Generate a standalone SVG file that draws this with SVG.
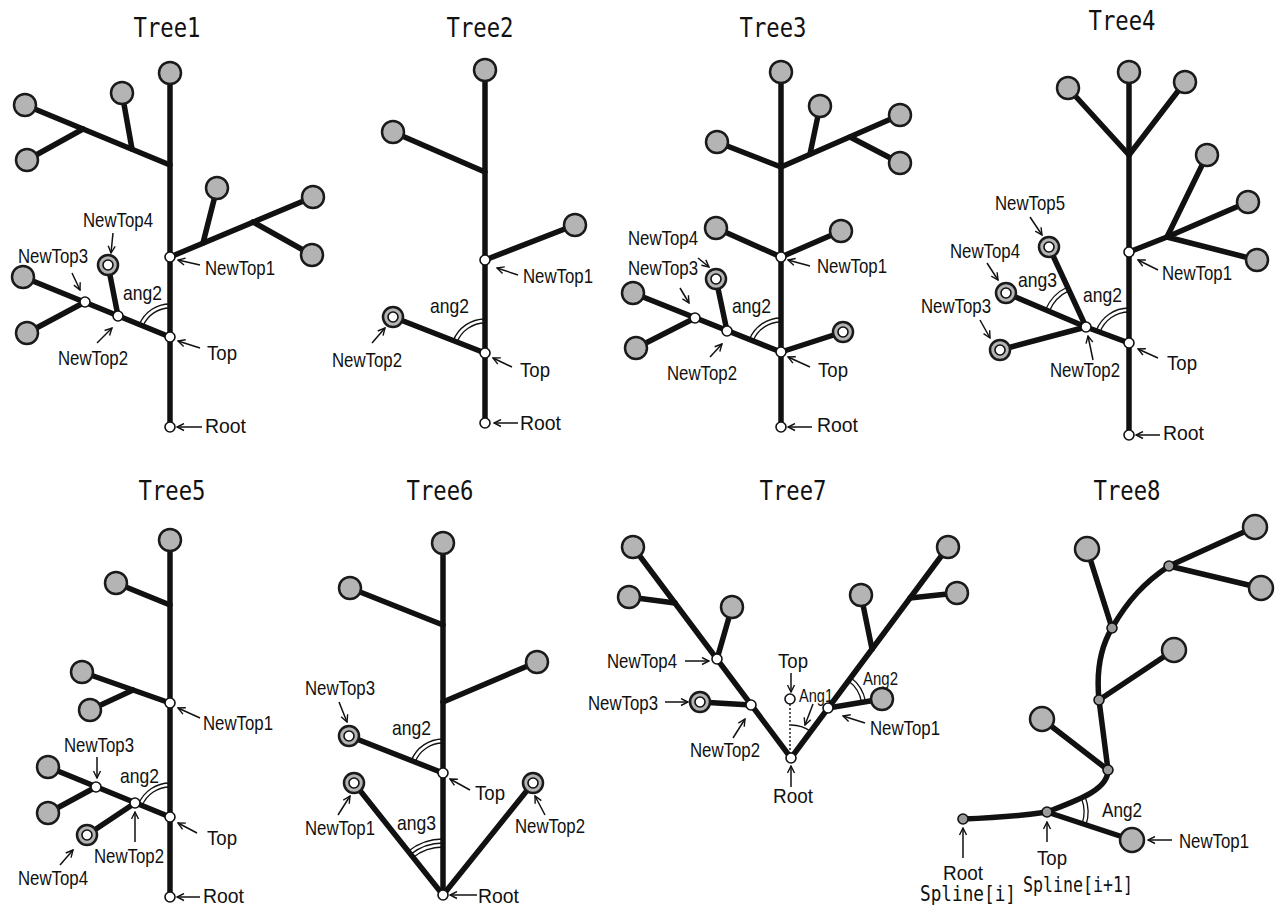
<svg xmlns="http://www.w3.org/2000/svg" width="1281" height="906" viewBox="0 0 1281 906">
<defs>
<style>
.br{stroke:#111;stroke-width:5.5;stroke-linecap:round;fill:none}
.leaf{fill:#b4b4b4;stroke:#1a1a1a;stroke-width:2.5}
.node{fill:#fff;stroke:#111;stroke-width:1.6}
.sn{fill:#9a9a9a;stroke:#111;stroke-width:1.6}
.arc{fill:none;stroke:#111;stroke-width:1.3}
.arr{stroke:#111;stroke-width:1.5;fill:none;marker-end:url(#ah)}
.dot{stroke:#111;stroke-width:1.4;stroke-dasharray:2 2;fill:none}
text{font-family:"Liberation Sans",Arial,sans-serif;font-size:21px;fill:#111}
.ttl{font-family:"DejaVu Sans Mono","Liberation Mono",monospace;font-size:27px;text-anchor:middle}
.mono{font-family:"DejaVu Sans Mono","Liberation Mono",monospace;font-size:21px}
.sm{font-size:18px}
</style>
<marker id="ah" markerWidth="9" markerHeight="9" refX="8" refY="4.5" orient="auto" markerUnits="userSpaceOnUse">
<path d="M1,1 L8,4.5 L1,8" fill="none" stroke="#111" stroke-width="1.4"/>
</marker>
</defs>
<rect width="1281" height="906" fill="#fff"/>

<!-- Tree1 -->
<g id="tree1">
<text class="ttl" x="167" y="37" textLength="67" lengthAdjust="spacingAndGlyphs">Tree1</text>
<g id="t1-connectors">
<line class="br" x1="170" y1="73" x2="170" y2="427"/>
<line class="br" x1="170" y1="165" x2="25" y2="105"/>
<line class="br" x1="83" y1="129" x2="27" y2="160"/>
<line class="br" x1="132" y1="149" x2="122" y2="93"/>
<line class="br" x1="170" y1="257" x2="313" y2="197"/>
<line class="br" x1="203" y1="243" x2="217" y2="188"/>
<line class="br" x1="253" y1="222" x2="312" y2="255"/>
<line class="br" x1="170" y1="337" x2="23" y2="277"/>
<line class="br" x1="85" y1="302" x2="27" y2="333"/>
<line class="br" x1="118" y1="316" x2="108" y2="265"/>
<path class="arc" d="M170,308 A29,29 0 0 0 143.1,326.0"/>
<path class="arc" d="M170,304 A33,33 0 0 0 139.4,324.5"/>
<line class="arr" x1="113" y1="233" x2="111" y2="253"/>
<line class="arr" x1="72" y1="273" x2="80" y2="290"/>
<line class="arr" x1="200" y1="265" x2="178" y2="260"/>
<line class="arr" x1="97" y1="343" x2="112" y2="328"/>
<line class="arr" x1="200" y1="348" x2="178" y2="341"/>
<line class="arr" x1="202" y1="427" x2="177" y2="427"/>
</g>
<g id="t1-leaves">
<circle class="leaf" cx="170" cy="73" r="11"/>
<circle class="leaf" cx="25" cy="105" r="11"/>
<circle class="leaf" cx="27" cy="160" r="11"/>
<circle class="leaf" cx="122" cy="93" r="11"/>
<circle class="leaf" cx="313" cy="197" r="11"/>
<circle class="leaf" cx="217" cy="188" r="11"/>
<circle class="leaf" cx="312" cy="255" r="11"/>
<circle class="leaf" cx="23" cy="277" r="11"/>
<circle class="leaf" cx="27" cy="333" r="11"/>
</g>
<g id="t1-newtop4"><circle class="leaf" cx="108" cy="265" r="10"/><circle class="node" cx="108" cy="265" r="5"/><text x="83" y="227" textLength="70" lengthAdjust="spacingAndGlyphs">NewTop4</text></g>
<g id="t1-newtop3"><circle class="node" cx="85" cy="302" r="5"/><text x="18" y="263" textLength="70" lengthAdjust="spacingAndGlyphs">NewTop3</text></g>
<g id="t1-newtop2"><circle class="node" cx="118" cy="316" r="5"/><text x="58" y="365" textLength="70" lengthAdjust="spacingAndGlyphs">NewTop2</text></g>
<g id="t1-newtop1"><circle class="node" cx="170" cy="257" r="5"/><text x="205" y="275" textLength="70" lengthAdjust="spacingAndGlyphs">NewTop1</text></g>
<g id="t1-top"><circle class="node" cx="170" cy="337" r="5"/><text x="207" y="360" textLength="30" lengthAdjust="spacingAndGlyphs">Top</text></g>
<g id="t1-root"><circle class="node" cx="170" cy="427" r="5"/><text x="205" y="433" textLength="41" lengthAdjust="spacingAndGlyphs">Root</text></g>
<text x="123" y="300" textLength="39" lengthAdjust="spacingAndGlyphs">ang2</text>
</g>

<!-- Tree2 -->
<g id="tree2">
<text class="ttl" x="480" y="37" textLength="67" lengthAdjust="spacingAndGlyphs">Tree2</text>
<g id="t2-connectors">
<line class="br" x1="485" y1="70" x2="485" y2="423"/>
<line class="br" x1="485" y1="172" x2="393" y2="132"/>
<line class="br" x1="485" y1="260" x2="575" y2="225"/>
<line class="br" x1="485" y1="353" x2="393" y2="317"/>
<path class="arc" d="M485,323 A30,30 0 0 0 457.1,342.1"/>
<path class="arc" d="M485,319 A34,34 0 0 0 453.3,340.6"/>
<line class="arr" x1="518" y1="275" x2="497" y2="268"/>
<line class="arr" x1="372" y1="343" x2="385" y2="328"/>
<line class="arr" x1="512" y1="367" x2="493" y2="358"/>
<line class="arr" x1="518" y1="423" x2="494" y2="423"/>
</g>
<g id="t2-leaves">
<circle class="leaf" cx="485" cy="70" r="11"/>
<circle class="leaf" cx="393" cy="132" r="11"/>
<circle class="leaf" cx="575" cy="225" r="11"/>
</g>
<g id="t2-newtop2"><circle class="leaf" cx="393" cy="317" r="10"/><circle class="node" cx="393" cy="317" r="5"/><text x="332" y="367" textLength="70" lengthAdjust="spacingAndGlyphs">NewTop2</text></g>
<g id="t2-newtop1"><circle class="node" cx="485" cy="260" r="5"/><text x="523" y="283" textLength="70" lengthAdjust="spacingAndGlyphs">NewTop1</text></g>
<g id="t2-top"><circle class="node" cx="485" cy="353" r="5"/><text x="520" y="377" textLength="30" lengthAdjust="spacingAndGlyphs">Top</text></g>
<g id="t2-root"><circle class="node" cx="485" cy="423" r="5"/><text x="520" y="430" textLength="41" lengthAdjust="spacingAndGlyphs">Root</text></g>
<text x="430" y="313" textLength="39" lengthAdjust="spacingAndGlyphs">ang2</text>
</g>

<!-- Tree3 -->
<g id="tree3">
<text class="ttl" x="773" y="37" textLength="67" lengthAdjust="spacingAndGlyphs">Tree3</text>
<g id="t3-connectors">
<line class="br" x1="781" y1="72" x2="781" y2="427"/>
<line class="br" x1="781" y1="167" x2="717" y2="142"/>
<line class="br" x1="781" y1="167" x2="900" y2="115"/>
<line class="br" x1="810" y1="154" x2="820" y2="106"/>
<line class="br" x1="850" y1="137" x2="900" y2="163"/>
<line class="br" x1="781" y1="257" x2="716" y2="228"/>
<line class="br" x1="781" y1="257" x2="841" y2="231"/>
<line class="br" x1="781" y1="352" x2="843" y2="332"/>
<line class="br" x1="781" y1="352" x2="633" y2="293"/>
<line class="br" x1="695" y1="318" x2="636" y2="348"/>
<line class="br" x1="727" y1="331" x2="716" y2="279"/>
<path class="arc" d="M781,322 A30,30 0 0 0 753.1,340.9"/>
<path class="arc" d="M781,318 A34,34 0 0 0 749.4,339.4"/>
<line class="arr" x1="698" y1="258" x2="709" y2="267"/>
<line class="arr" x1="680" y1="288" x2="689" y2="303"/>
<line class="arr" x1="810" y1="266" x2="788" y2="260"/>
<line class="arr" x1="710" y1="357" x2="722" y2="344"/>
<line class="arr" x1="810" y1="367" x2="788" y2="357"/>
<line class="arr" x1="812" y1="427" x2="788" y2="427"/>
</g>
<g id="t3-leaves">
<circle class="leaf" cx="781" cy="72" r="11"/>
<circle class="leaf" cx="717" cy="142" r="11"/>
<circle class="leaf" cx="900" cy="115" r="11"/>
<circle class="leaf" cx="820" cy="106" r="11"/>
<circle class="leaf" cx="900" cy="163" r="11"/>
<circle class="leaf" cx="716" cy="228" r="11"/>
<circle class="leaf" cx="841" cy="231" r="11"/>
<circle class="leaf" cx="633" cy="293" r="11"/>
<circle class="leaf" cx="636" cy="348" r="11"/>
<circle class="leaf" cx="843" cy="332" r="10"/><circle class="node" cx="843" cy="332" r="5"/>
</g>
<g id="t3-newtop4"><circle class="leaf" cx="716" cy="279" r="10"/><circle class="node" cx="716" cy="279" r="5"/><text x="628" y="245" textLength="70" lengthAdjust="spacingAndGlyphs">NewTop4</text></g>
<g id="t3-newtop3"><circle class="node" cx="695" cy="318" r="5"/><text x="628" y="275" textLength="70" lengthAdjust="spacingAndGlyphs">NewTop3</text></g>
<g id="t3-newtop2"><circle class="node" cx="727" cy="331" r="5"/><text x="667" y="380" textLength="70" lengthAdjust="spacingAndGlyphs">NewTop2</text></g>
<g id="t3-newtop1"><circle class="node" cx="781" cy="257" r="5"/><text x="817" y="273" textLength="70" lengthAdjust="spacingAndGlyphs">NewTop1</text></g>
<g id="t3-top"><circle class="node" cx="781" cy="352" r="5"/><text x="818" y="377" textLength="30" lengthAdjust="spacingAndGlyphs">Top</text></g>
<g id="t3-root"><circle class="node" cx="781" cy="427" r="5"/><text x="817" y="432" textLength="41" lengthAdjust="spacingAndGlyphs">Root</text></g>
<text x="732" y="313" textLength="39" lengthAdjust="spacingAndGlyphs">ang2</text>
</g>

<!-- Tree4 -->
<g id="tree4">
<text class="ttl" x="1122" y="30" textLength="67" lengthAdjust="spacingAndGlyphs">Tree4</text>
<g id="t4-connectors">
<line class="br" x1="1129" y1="72" x2="1129" y2="435"/>
<line class="br" x1="1129" y1="155" x2="1068" y2="88"/>
<line class="br" x1="1129" y1="155" x2="1185" y2="82"/>
<line class="br" x1="1129" y1="252" x2="1167" y2="237"/>
<line class="br" x1="1167" y1="237" x2="1207" y2="155"/>
<line class="br" x1="1167" y1="237" x2="1248" y2="202"/>
<line class="br" x1="1167" y1="237" x2="1257" y2="260"/>
<line class="br" x1="1129" y1="343" x2="1086" y2="327"/>
<line class="br" x1="1086" y1="327" x2="1049" y2="247"/>
<line class="br" x1="1086" y1="327" x2="1006" y2="293"/>
<line class="br" x1="1086" y1="327" x2="1000" y2="350"/>
<path class="arc" d="M1129,312 A31,31 0 0 0 1100.0,332.2"/>
<path class="arc" d="M1129,308 A35,35 0 0 0 1096.2,330.8"/>
<path class="arc" d="M1069.2,290.7 A40,40 0 0 0 1049.2,311.4"/>
<path class="arc" d="M1067.5,287.0 A44,44 0 0 0 1045.5,309.8"/>
<line class="arr" x1="1030" y1="217" x2="1042" y2="235"/>
<line class="arr" x1="987" y1="263" x2="998" y2="280"/>
<line class="arr" x1="980" y1="320" x2="990" y2="338"/>
<line class="arr" x1="1158" y1="270" x2="1138" y2="260"/>
<line class="arr" x1="1093" y1="360" x2="1088" y2="336"/>
<line class="arr" x1="1158" y1="358" x2="1138" y2="349"/>
<line class="arr" x1="1160" y1="435" x2="1136" y2="435"/>
</g>
<g id="t4-leaves">
<circle class="leaf" cx="1129" cy="72" r="11"/>
<circle class="leaf" cx="1068" cy="88" r="11"/>
<circle class="leaf" cx="1185" cy="82" r="11"/>
<circle class="leaf" cx="1207" cy="155" r="11"/>
<circle class="leaf" cx="1248" cy="202" r="11"/>
<circle class="leaf" cx="1257" cy="260" r="11"/>
</g>
<g id="t4-newtop5"><circle class="leaf" cx="1049" cy="247" r="10"/><circle class="node" cx="1049" cy="247" r="5"/><text x="995" y="210" textLength="70" lengthAdjust="spacingAndGlyphs">NewTop5</text></g>
<g id="t4-newtop4"><circle class="leaf" cx="1006" cy="293" r="10"/><circle class="node" cx="1006" cy="293" r="5"/><text x="950" y="258" textLength="70" lengthAdjust="spacingAndGlyphs">NewTop4</text></g>
<g id="t4-newtop3"><circle class="leaf" cx="1000" cy="350" r="10"/><circle class="node" cx="1000" cy="350" r="5"/><text x="921" y="313" textLength="70" lengthAdjust="spacingAndGlyphs">NewTop3</text></g>
<g id="t4-newtop2"><circle class="node" cx="1086" cy="327" r="5"/><text x="1050" y="377" textLength="70" lengthAdjust="spacingAndGlyphs">NewTop2</text></g>
<g id="t4-newtop1"><circle class="node" cx="1129" cy="252" r="5"/><text x="1162" y="280" textLength="70" lengthAdjust="spacingAndGlyphs">NewTop1</text></g>
<g id="t4-top"><circle class="node" cx="1129" cy="343" r="5"/><text x="1167" y="370" textLength="30" lengthAdjust="spacingAndGlyphs">Top</text></g>
<g id="t4-root"><circle class="node" cx="1129" cy="435" r="5"/><text x="1163" y="440" textLength="41" lengthAdjust="spacingAndGlyphs">Root</text></g>
<text x="1018" y="287" textLength="39" lengthAdjust="spacingAndGlyphs">ang3</text>
<text x="1083" y="302" textLength="39" lengthAdjust="spacingAndGlyphs">ang2</text>
</g>

<!-- Tree5 -->
<g id="tree5">
<text class="ttl" x="172" y="500" textLength="67" lengthAdjust="spacingAndGlyphs">Tree5</text>
<g id="t5-connectors">
<line class="br" x1="170" y1="540" x2="170" y2="897"/>
<line class="br" x1="170" y1="605" x2="116" y2="583"/>
<line class="br" x1="170" y1="703" x2="82" y2="672"/>
<line class="br" x1="133" y1="690" x2="90" y2="710"/>
<line class="br" x1="170" y1="817" x2="48" y2="767"/>
<line class="br" x1="96" y1="787" x2="48" y2="813"/>
<line class="br" x1="135" y1="803" x2="87" y2="835"/>
<path class="arc" d="M170,787 A30,30 0 0 0 142.2,805.6"/>
<path class="arc" d="M170,783 A34,34 0 0 0 138.5,804.1"/>
<line class="arr" x1="97" y1="757" x2="97" y2="778"/>
<line class="arr" x1="200" y1="718" x2="178" y2="708"/>
<line class="arr" x1="197" y1="833" x2="178" y2="823"/>
<line class="arr" x1="135" y1="842" x2="135" y2="812"/>
<line class="arr" x1="60" y1="865" x2="73" y2="850"/>
<line class="arr" x1="200" y1="897" x2="177" y2="897"/>
</g>
<g id="t5-leaves">
<circle class="leaf" cx="170" cy="540" r="11"/>
<circle class="leaf" cx="116" cy="583" r="11"/>
<circle class="leaf" cx="82" cy="672" r="11"/>
<circle class="leaf" cx="90" cy="710" r="11"/>
<circle class="leaf" cx="48" cy="767" r="11"/>
<circle class="leaf" cx="48" cy="813" r="11"/>
</g>
<g id="t5-newtop4"><circle class="leaf" cx="87" cy="835" r="10"/><circle class="node" cx="87" cy="835" r="5"/><text x="18" y="885" textLength="70" lengthAdjust="spacingAndGlyphs">NewTop4</text></g>
<g id="t5-newtop3"><circle class="node" cx="96" cy="787" r="5"/><text x="64" y="752" textLength="70" lengthAdjust="spacingAndGlyphs">NewTop3</text></g>
<g id="t5-newtop2"><circle class="node" cx="135" cy="803" r="5"/><text x="94" y="863" textLength="70" lengthAdjust="spacingAndGlyphs">NewTop2</text></g>
<g id="t5-newtop1"><circle class="node" cx="170" cy="703" r="5"/><text x="203" y="730" textLength="70" lengthAdjust="spacingAndGlyphs">NewTop1</text></g>
<g id="t5-top"><circle class="node" cx="170" cy="817" r="5"/><text x="207" y="845" textLength="30" lengthAdjust="spacingAndGlyphs">Top</text></g>
<g id="t5-root"><circle class="node" cx="170" cy="897" r="5"/><text x="203" y="903" textLength="41" lengthAdjust="spacingAndGlyphs">Root</text></g>
<text x="120" y="783" textLength="39" lengthAdjust="spacingAndGlyphs">ang2</text>
</g>

<!-- Tree6 -->
<g id="tree6">
<text class="ttl" x="440" y="500" textLength="67" lengthAdjust="spacingAndGlyphs">Tree6</text>
<g id="t6-connectors">
<line class="br" x1="443" y1="543" x2="443" y2="895"/>
<line class="br" x1="443" y1="625" x2="350" y2="588"/>
<line class="br" x1="443" y1="702" x2="537" y2="662"/>
<line class="br" x1="443" y1="773" x2="349" y2="736"/>
<line class="br" x1="443" y1="895" x2="354" y2="783"/>
<line class="br" x1="443" y1="895" x2="533" y2="783"/>
<path class="arc" d="M443,743 A30,30 0 0 0 415.1,762.0"/>
<path class="arc" d="M443,739 A34,34 0 0 0 411.3,760.6"/>
<path class="arc" d="M443,847 A48,48 0 0 0 413.1,857.4"/>
<path class="arc" d="M443,843 A52,52 0 0 0 410.7,854.3"/>
<path class="arc" d="M443,839 A56,56 0 0 0 408.2,851.2"/>
<line class="arr" x1="339" y1="702" x2="347" y2="722"/>
<line class="arr" x1="470" y1="790" x2="450" y2="779"/>
<line class="arr" x1="338" y1="815" x2="350" y2="796"/>
<line class="arr" x1="545" y1="815" x2="535" y2="796"/>
<line class="arr" x1="477" y1="895" x2="450" y2="895"/>
</g>
<g id="t6-leaves">
<circle class="leaf" cx="443" cy="543" r="11"/>
<circle class="leaf" cx="350" cy="588" r="11"/>
<circle class="leaf" cx="537" cy="662" r="11"/>
</g>
<g id="t6-newtop3"><circle class="leaf" cx="349" cy="736" r="10"/><circle class="node" cx="349" cy="736" r="5"/><text x="305" y="695" textLength="70" lengthAdjust="spacingAndGlyphs">NewTop3</text></g>
<g id="t6-newtop1"><circle class="leaf" cx="354" cy="783" r="10"/><circle class="node" cx="354" cy="783" r="5"/><text x="305" y="835" textLength="70" lengthAdjust="spacingAndGlyphs">NewTop1</text></g>
<g id="t6-newtop2"><circle class="leaf" cx="533" cy="783" r="10"/><circle class="node" cx="533" cy="783" r="5"/><text x="515" y="833" textLength="70" lengthAdjust="spacingAndGlyphs">NewTop2</text></g>
<g id="t6-top"><circle class="node" cx="443" cy="773" r="5"/><text x="475" y="800" textLength="30" lengthAdjust="spacingAndGlyphs">Top</text></g>
<g id="t6-root"><circle class="node" cx="443" cy="895" r="5"/><text x="478" y="903" textLength="41" lengthAdjust="spacingAndGlyphs">Root</text></g>
<text x="392" y="735" textLength="39" lengthAdjust="spacingAndGlyphs">ang2</text>
<text x="397" y="830" textLength="39" lengthAdjust="spacingAndGlyphs">ang3</text>
</g>

<!-- Tree7 -->
<g id="tree7">
<text class="ttl" x="793" y="500" textLength="67" lengthAdjust="spacingAndGlyphs">Tree7</text>
<g id="t7-connectors">
<line class="br" x1="791" y1="758" x2="633" y2="547"/>
<line class="br" x1="675" y1="603" x2="629" y2="597"/>
<line class="br" x1="717" y1="659" x2="732" y2="607"/>
<line class="br" x1="751" y1="705" x2="700" y2="702"/>
<line class="br" x1="791" y1="758" x2="948" y2="547"/>
<line class="br" x1="828" y1="708" x2="882" y2="699"/>
<line class="br" x1="872" y1="649" x2="861" y2="595"/>
<line class="br" x1="910" y1="598" x2="957" y2="593"/>
<line class="dot" x1="790" y1="704" x2="790" y2="753"/>
<path class="arc" d="M791,725 A33,33 0 0 1 810.7,731.5"/>
<path class="arc" d="M848.3,680.7 A34,34 0 0 1 861.6,702.4"/>
<path class="arc" d="M850.7,677.5 A38,38 0 0 1 865.5,701.7"/>
<line class="arr" x1="685" y1="661" x2="709" y2="661"/>
<line class="arr" x1="665" y1="702" x2="688" y2="702"/>
<line class="arr" x1="733" y1="738" x2="745" y2="719"/>
<line class="arr" x1="791" y1="673" x2="791" y2="692"/>
<line class="arr" x1="813" y1="704" x2="805" y2="725"/>
<line class="arr" x1="865" y1="723" x2="843" y2="716"/>
<line class="arr" x1="791" y1="787" x2="791" y2="766"/>
</g>
<g id="t7-leaves">
<circle class="leaf" cx="633" cy="547" r="11"/>
<circle class="leaf" cx="629" cy="597" r="11"/>
<circle class="leaf" cx="732" cy="607" r="11"/>
<circle class="leaf" cx="948" cy="547" r="11"/>
<circle class="leaf" cx="861" cy="595" r="11"/>
<circle class="leaf" cx="957" cy="593" r="11"/>
<circle class="leaf" cx="882" cy="699" r="11"/>
</g>
<g id="t7-newtop3"><circle class="leaf" cx="700" cy="702" r="10"/><circle class="node" cx="700" cy="702" r="5"/><text x="588" y="710" textLength="70" lengthAdjust="spacingAndGlyphs">NewTop3</text></g>
<g id="t7-newtop4"><circle class="node" cx="717" cy="659" r="5"/><text x="607" y="668" textLength="70" lengthAdjust="spacingAndGlyphs">NewTop4</text></g>
<g id="t7-newtop2"><circle class="node" cx="751" cy="705" r="5"/><text x="690" y="757" textLength="70" lengthAdjust="spacingAndGlyphs">NewTop2</text></g>
<g id="t7-newtop1"><circle class="node" cx="828" cy="708" r="5"/><text x="870" y="735" textLength="70" lengthAdjust="spacingAndGlyphs">NewTop1</text></g>
<g id="t7-top"><circle class="node" cx="790" cy="699" r="5"/><text x="778" y="668" textLength="30" lengthAdjust="spacingAndGlyphs">Top</text></g>
<g id="t7-root"><circle class="node" cx="791" cy="758" r="5"/><text x="773" y="803" textLength="40" lengthAdjust="spacingAndGlyphs">Root</text></g>
<text class="sm" x="799" y="702" textLength="34" lengthAdjust="spacingAndGlyphs">Ang1</text>
<text class="sm" x="863" y="685" textLength="35" lengthAdjust="spacingAndGlyphs">Ang2</text>
</g>

<!-- Tree8 -->
<g id="tree8">
<text class="ttl" x="1127" y="500" textLength="67" lengthAdjust="spacingAndGlyphs">Tree8</text>
<g id="t8-connectors">
<path class="br" d="M963,819 C990,818 1020,816 1047,812 C1078,800 1108,790 1108,770 L1099,700 C1096,670 1100,648 1112,628 C1128,600 1145,582 1169,566"/>
<line class="br" x1="1047" y1="812" x2="1132" y2="840"/>
<line class="br" x1="1108" y1="770" x2="1042" y2="719"/>
<line class="br" x1="1099" y1="700" x2="1174" y2="650"/>
<line class="br" x1="1112" y1="628" x2="1087" y2="549"/>
<line class="br" x1="1169" y1="566" x2="1255" y2="527"/>
<line class="br" x1="1169" y1="566" x2="1261" y2="588"/>
<path class="arc" d="M1081.5,798.6 A37,37 0 0 1 1082.2,823.6"/>
<path class="arc" d="M1085.3,797.2 A41,41 0 0 1 1086.0,824.8"/>
<line class="arr" x1="1172" y1="840" x2="1148" y2="840"/>
<line class="arr" x1="1047" y1="842" x2="1047" y2="822"/>
<line class="arr" x1="963" y1="858" x2="963" y2="828"/>
</g>
<g id="t8-leaves">
<circle class="leaf" cx="1042" cy="719" r="12"/>
<circle class="leaf" cx="1174" cy="650" r="12"/>
<circle class="leaf" cx="1087" cy="549" r="12"/>
<circle class="leaf" cx="1255" cy="527" r="12"/>
<circle class="leaf" cx="1261" cy="588" r="12"/>
</g>
<g id="t8-spline-nodes">
<circle class="sn" cx="1108" cy="770" r="5"/>
<circle class="sn" cx="1099" cy="700" r="5"/>
<circle class="sn" cx="1112" cy="628" r="5"/>
<circle class="sn" cx="1169" cy="566" r="5"/>
</g>
<g id="t8-newtop1"><circle class="leaf" cx="1132" cy="840" r="12"/><text x="1179" y="848" textLength="70" lengthAdjust="spacingAndGlyphs">NewTop1</text></g>
<g id="t8-top"><circle class="sn" cx="1047" cy="812" r="5"/><text x="1037" y="865" textLength="30" lengthAdjust="spacingAndGlyphs">Top</text><text class="mono" x="1023" y="892" textLength="110" lengthAdjust="spacingAndGlyphs">Spline[i+1]</text></g>
<g id="t8-root"><circle class="sn" cx="963" cy="819" r="5"/><text x="943" y="880" textLength="40" lengthAdjust="spacingAndGlyphs">Root</text><text class="mono" x="920" y="901" textLength="96" lengthAdjust="spacingAndGlyphs">Spline[i]</text></g>
<text x="1102" y="817" textLength="40" lengthAdjust="spacingAndGlyphs">Ang2</text>
</g>
</svg>
